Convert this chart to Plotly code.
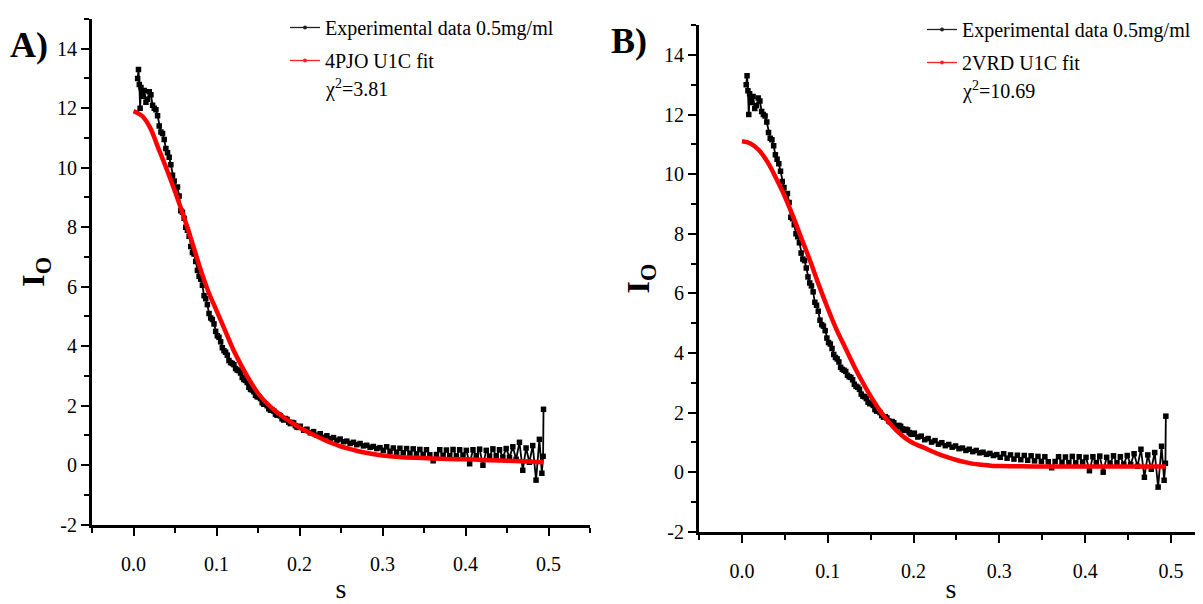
import plotly.graph_objects as go

# ---------------- data ----------------
# experimental curve: main samples
s_exp_main = [0.005, 0.006, 0.007, 0.008, 0.009, 0.011,
              0.013, 0.017, 0.021, 0.025, 0.029, 0.033, 0.037, 0.041, 0.045, 0.049,
              0.053, 0.057, 0.061, 0.065, 0.069, 0.073, 0.077, 0.081, 0.085, 0.089,
              0.093, 0.097, 0.101, 0.105, 0.109, 0.113, 0.117, 0.121, 0.125, 0.129,
              0.133, 0.137, 0.141, 0.145, 0.149, 0.153, 0.157, 0.161, 0.165, 0.169,
              0.173, 0.177, 0.181, 0.185, 0.189, 0.193, 0.197, 0.201, 0.205, 0.209,
              0.213, 0.217, 0.221, 0.225, 0.229, 0.233, 0.237, 0.241, 0.245, 0.249,
              0.253, 0.257, 0.261, 0.265, 0.269, 0.273, 0.277, 0.281, 0.285, 0.289,
              0.293, 0.297, 0.301, 0.305, 0.309, 0.313, 0.317, 0.321, 0.325, 0.329,
              0.333, 0.337, 0.341, 0.345, 0.349, 0.353, 0.357, 0.361, 0.365, 0.369,
              0.373, 0.377, 0.381, 0.385, 0.389, 0.393, 0.397, 0.401, 0.405, 0.409,
              0.413, 0.417, 0.421, 0.425, 0.429, 0.433, 0.437, 0.441, 0.445, 0.449,
              0.453, 0.457, 0.461, 0.465, 0.469, 0.473, 0.477, 0.481, 0.485, 0.489,
              0.492, 0.4935, 0.494]
i_exp_main = [13.0, 13.3, 12.8, 12.0, 12.7, 12.4,
              12.6, 12.3, 12.45, 12.0, 11.75, 11.2, 10.95, 10.5, 10.1, 9.55,
              9.35, 8.55, 8.3, 7.9, 7.35, 7.1, 6.55, 6.25, 5.7, 5.4,
              4.95, 4.75, 4.35, 4.15, 3.85, 3.7, 3.45, 3.38, 3.2, 3.1,
              2.88, 2.78, 2.55, 2.47, 2.3, 2.24, 2.05, 2.0, 1.85, 1.82,
              1.68, 1.66, 1.52, 1.54, 1.4, 1.42, 1.28, 1.31, 1.18, 1.21,
              1.09, 1.13, 1.01, 1.06, 0.94, 0.99, 0.89, 0.93, 0.84, 0.88,
              0.79, 0.81, 0.73, 0.77, 0.69, 0.73, 0.65, 0.67, 0.6, 0.63,
              0.56, 0.59, 0.5, 0.62, 0.47, 0.58, 0.44, 0.57, 0.42, 0.56,
              0.4, 0.55, 0.38, 0.53, 0.36, 0.52, 0.35, 0.15, 0.36, 0.52,
              0.33, 0.51, 0.32, 0.53, 0.31, 0.52, 0.34, 0.5, 0.05, 0.52,
              0.32, 0.54, 0.0, 0.5, 0.3, 0.55, 0.31, 0.52, 0.27, 0.56,
              0.26, 0.62, 0.2, 0.77, -0.17, 0.58, 0.1, 0.66, -0.5, 0.87,
              -0.27, 0.3, 1.88]
# experimental curve: extra samples in the steep part
s_exp_extra = [0.015, 0.019, 0.023, 0.027, 0.031, 0.035, 0.039, 0.043, 0.047, 0.051,
               0.055, 0.059, 0.063, 0.067, 0.071, 0.075, 0.079, 0.083, 0.087, 0.091,
               0.095, 0.099, 0.103, 0.107, 0.111, 0.115, 0.119, 0.123, 0.127, 0.131,
               0.135, 0.139, 0.143, 0.147, 0.151, 0.155, 0.159, 0.163, 0.167, 0.171,
               0.175, 0.179, 0.183, 0.187, 0.191, 0.195, 0.199]
i_exp_extra = [12.2, 12.55, 12.1, 11.95, 11.4, 11.15, 10.65, 10.35, 9.75, 9.3,
               9.05, 8.5, 8.0, 7.7, 7.15, 6.85, 6.35, 6.05, 5.6, 5.1,
               4.9, 4.5, 4.3, 3.95, 3.8, 3.52, 3.42, 3.25, 3.18, 2.95,
               2.85, 2.62, 2.53, 2.35, 2.3, 2.1, 2.05, 1.9, 1.86, 1.72,
               1.7, 1.56, 1.57, 1.45, 1.44, 1.33, 1.27]

s_fit = [0.0, 0.01, 0.02, 0.03, 0.04, 0.05, 0.06, 0.07, 0.08, 0.09,
         0.10, 0.11, 0.12, 0.13, 0.14, 0.15, 0.16, 0.17, 0.18, 0.19,
         0.20, 0.21, 0.22, 0.23, 0.24, 0.25, 0.26, 0.27, 0.28, 0.29,
         0.30, 0.32, 0.34, 0.36, 0.38, 0.40, 0.42, 0.44, 0.46, 0.48, 0.494]
fit_4pjo = [11.9, 11.75, 11.35, 10.65, 9.95, 9.2, 8.4, 7.55, 6.65, 5.85,
            5.2, 4.55, 3.9, 3.35, 2.85, 2.42, 2.1, 1.85, 1.63, 1.44,
            1.27, 1.12, 0.98, 0.85, 0.73, 0.63, 0.55, 0.48, 0.42, 0.37,
            0.33, 0.28, 0.25, 0.23, 0.21, 0.2, 0.18, 0.16, 0.14, 0.12, 0.1]
fit_2vrd = [11.1, 11.03, 10.8, 10.4, 9.85, 9.25, 8.55, 7.8, 7.05, 6.25,
            5.5, 4.8, 4.2, 3.6, 3.05, 2.55, 2.1, 1.72, 1.4, 1.15,
            0.97, 0.85, 0.72, 0.6, 0.5, 0.41, 0.34, 0.28, 0.25, 0.22,
            0.21, 0.2, 0.19, 0.19, 0.19, 0.19, 0.19, 0.19, 0.19, 0.19, 0.19]

x_tickvals = [0.0, 0.1, 0.2, 0.3, 0.4, 0.5]
x_ticktext = ["0.0", "0.1", "0.2", "0.3", "0.4", "0.5"]
y_tickvals = [-2, 0, 2, 4, 6, 8, 10, 12, 14]
y_ticktext = ["-2", "0", "2", "4", "6", "8", "10", "12", "14"]

exp_name = "Experimental data 0.5mg/ml"
fit_names = ["4PJO U1C fit", "2VRD U1C fit"]
chi2_texts = ["χ<sup>2</sup>=3.81", "χ<sup>2</sup>=10.69"]
panel_labels = ["A)", "B)"]

# merge the experimental samples in order of s
_pairs = sorted(zip(s_exp_main + s_exp_extra, i_exp_main + i_exp_extra))
s_exp = [p[0] for p in _pairs]
i_exp = [p[1] for p in _pairs]

SERIF = "Liberation Serif"
OFF = 8                      # page body margin
W, H = 1203 - OFF, 604 - OFF  # figure size


def px(x):
    return (x - OFF) / W


def py(y):
    return 1 - (y - OFF) / H


fig = go.Figure()

for k, (fit_vals, fit_name) in enumerate(zip([fit_4pjo, fit_2vrd], fit_names)):
    xa = "x" if k == 0 else "x2"
    ya = "y" if k == 0 else "y2"
    lg = "legend" if k == 0 else "legend2"
    fig.add_trace(go.Scatter(
        x=s_exp, y=i_exp, mode="lines+markers", name=exp_name, showlegend=False,
        line=dict(color="black", width=1.8),
        marker=dict(symbol="square", size=5.5, color="black"),
        xaxis=xa, yaxis=ya))
    fig.add_trace(go.Scatter(
        x=s_fit, y=fit_vals, mode="lines", name=fit_name, showlegend=False,
        line=dict(color="#ff0000", width=4.5, shape="spline"),
        xaxis=xa, yaxis=ya))
    # legend entries (thin line with a dot, as in the reference legend)
    fig.add_trace(go.Scatter(
        x=[None], y=[None], mode="lines+markers", name=exp_name,
        line=dict(color="#222222", width=1.3), marker=dict(size=4, color="#222222"),
        xaxis=xa, yaxis=ya, legend=lg, legendgroup=f"e{k}"))
    fig.add_trace(go.Scatter(
        x=[None], y=[None], mode="lines+markers", name=fit_name,
        line=dict(color="#ff2020", width=1.3), marker=dict(size=4, color="#ff2020"),
        xaxis=xa, yaxis=ya, legend=lg, legendgroup=f"f{k}"))

axis_common = dict(
    showline=True, linecolor="black", linewidth=3,
    ticks="outside", ticklen=8, tickwidth=2, tickcolor="black",
    showgrid=False, zeroline=False, automargin=False,
    tickfont=dict(family=SERIF, size=20, color="black"),
)
minor_common = dict(ticks="outside", ticklen=5, tickwidth=2, tickcolor="black", showgrid=False)

xdom = [[px(92), px(590)], [px(699), 1.0]]
ydom = [[py(524.6), py(18)], [py(531.7), py(24.1)]]
xrng = [[-0.05, 0.55], [-0.05, 0.5373]]
ytitle_standoff = [3, 5]

for k in range(2):
    sfx = "" if k == 0 else "2"
    fig.update_layout(**{
        f"xaxis{sfx}": dict(
            axis_common, domain=xdom[k], range=xrng[k], anchor=f"y{sfx}",
            tickmode="array", tickvals=x_tickvals, ticktext=x_ticktext,
            minor=dict(minor_common, tickmode="linear", dtick=0.05, tick0=0),
            ticklabelstandoff=11,
            title=dict(text="s", font=dict(family=SERIF, size=28, color="black"), standoff=11)),
        f"yaxis{sfx}": dict(
            axis_common, domain=ydom[k], range=[-2, 15], anchor=f"x{sfx}",
            tickmode="array", tickvals=y_tickvals, ticktext=y_ticktext,
            minor=dict(minor_common, tickmode="linear", dtick=1, tick0=0),
            title=dict(text="<b>I<sub>O</sub></b>", font=dict(family=SERIF, size=32, color="black"),
                       standoff=ytitle_standoff[k])),
    })

legend_common = dict(
    font=dict(family=SERIF, size=20, color="black"),
    bgcolor="rgba(0,0,0,0)", borderwidth=0, tracegroupgap=4,
    xanchor="left", yanchor="top", itemwidth=30,
)
fig.update_layout(
    legend=dict(legend_common, x=px(285), y=py(7)),
    legend2=dict(legend_common, x=px(922), y=py(10)),
)

# chi-square annotations and panel labels
chi_pos = [(323, 88), (960, 90)]
for k in range(2):
    fig.add_annotation(
        x=px(chi_pos[k][0]), y=py(chi_pos[k][1]), xref="paper", yref="paper",
        xanchor="left", yanchor="middle", showarrow=False, text=chi2_texts[k],
        font=dict(family=SERIF, size=20, color="black"))
lab_pos = [(8, 44), (609, 40)]
for k in range(2):
    fig.add_annotation(
        x=px(lab_pos[k][0]), y=py(lab_pos[k][1]), xref="paper", yref="paper",
        xanchor="left", yanchor="middle", showarrow=False,
        text=f"<b>{panel_labels[k]}</b>",
        font=dict(family=SERIF, size=36, color="black"))

fig.update_layout(
    width=W, height=H, margin=dict(l=0, r=0, t=0, b=0),
    paper_bgcolor="white", plot_bgcolor="white", showlegend=True,
)

fig.write_html("out.html")
